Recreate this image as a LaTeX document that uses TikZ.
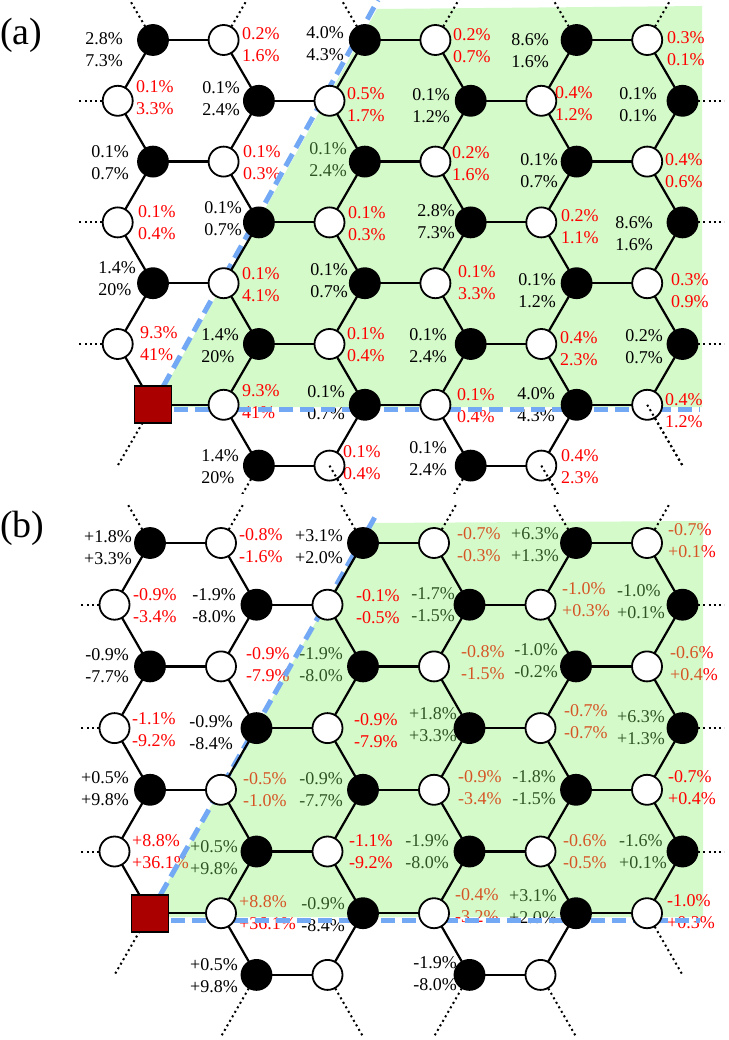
\documentclass[tikz,border=0pt]{standalone}
\usepackage{fontspec}
\setmainfont{Liberation Serif}
\definecolor{gfill}{RGB}{135,243,106}
\definecolor{dblue}{RGB}{115,168,245}
\definecolor{sqred}{RGB}{170,0,0}
\definecolor{lred}{RGB}{255,0,0}
\pgfdeclarelayer{bgl}
\pgfdeclarelayer{labunder}
\pgfdeclarelayer{shade}
\pgfdeclarelayer{labover}
\pgfdeclarelayer{dashes}
\pgfdeclarelayer{bonds}
\pgfdeclarelayer{top}
\pgfsetlayers{bgl,labunder,shade,labover,dashes,bonds,main,top}
\tikzset{
  bnode/.style={circle, draw=black, fill=black, line width=1.8pt, minimum size=30pt, inner sep=0pt},
  wnode/.style={circle, draw=black, fill=white, line width=1.8pt, minimum size=30pt, inner sep=0pt},
  sqnode/.style={rectangle, draw=black, fill=sqred, line width=1.8pt, minimum size=37pt, inner sep=0pt},
  bond/.style={line width=2.2pt},
  stub/.style={line width=2pt, dash pattern=on 2pt off 3.2pt},
  region/.style={draw=none, fill=gfill, fill opacity=0.35},
  border/.style={draw=dblue, line width=5pt, dash pattern=on 14pt off 7pt},
  lab/.style={font=\fontsize{18}{22}\selectfont, inner sep=0pt, align=left},
  tag/.style={font=\fontsize{38}{40}\selectfont, inner sep=0pt, anchor=west}
}
\newcommand\LA[6]{\node[lab,anchor=east,text=#6] (#1) at (#2,#3) {#4\\#5};}
\newcommand\RA[6]{\node[lab,anchor=west,text=#6] (#1) at (#2,#3) {#4\\#5};}
% #1 prefix, #2 x0, #3 y0, #4 a, #5 h, #6 clip top, #7 clip bottom
\newcommand\mklat[7]{%
\foreach \r in {0,2,4}{%
  \foreach \k/\m/\s in {0/0/bnode,1/1/wnode,2/3/bnode,3/4/wnode,4/6/bnode,5/7/wnode}{%
    \node[\s] (#1-\r-\k) at ({#2+(\m)*#4},{#3+\r*#5}) {};}}
\foreach \k/\m/\s in {1/1/wnode,2/3/bnode,3/4/wnode,4/6/bnode,5/7/wnode}{%
    \node[\s] (#1-6-\k) at ({#2+(\m)*#4},{#3+6*#5}) {};}
\node[sqnode] (#1-6-0) at (#2,{#3+6*#5}) {};
\foreach \r in {1,3,5}{%
  \foreach \k/\m/\s in {0/-0.5/wnode,1/1.5/bnode,2/2.5/wnode,3/4.5/bnode,4/5.5/wnode,5/7.5/bnode}{%
    \node[\s] (#1-\r-\k) at ({#2+(\m)*#4},{#3+\r*#5}) {};}}
\foreach \k/\m/\s in {1/1.5/bnode,2/2.5/wnode,3/4.5/bnode,4/5.5/wnode}{%
    \node[\s] (#1-7-\k) at ({#2+(\m)*#4},{#3+7*#5}) {};}
\foreach \k/\m in {0/-0.5,1/1.5,2/2.5,3/4.5,4/5.5,5/7.5}{%
  \coordinate (#1-u-\k) at ({#2+(\m)*#4},{#3-#5});}
\foreach \r in {1,3,5}{%
  \coordinate (#1-l-\r) at ({#2-1.5*#4},{#3+\r*#5});
  \coordinate (#1-e-\r) at ({#2+8.5*#4},{#3+\r*#5});}
\coordinate (#1-d-0) at ({#2-0.5*#4},{#3+7*#5});
\coordinate (#1-d-5) at ({#2+7.5*#4},{#3+7*#5});
\foreach \k/\m in {1/1,2/3,3/4,4/6}{%
  \coordinate (#1-b-\k) at ({#2+\m*#4},{#3+8*#5});}
\begin{pgfonlayer}{bonds}
 \foreach \r in {0,2,4,6}{\foreach \k/\j in {0/1,2/3,4/5}{\draw[bond] (#1-\r-\k.center) -- (#1-\r-\j.center);}}
 \foreach \r in {1,3,5,7}{\foreach \k/\j in {1/2,3/4}{\draw[bond] (#1-\r-\k.center) -- (#1-\r-\j.center);}}
 \foreach \r/\u in {0/1,2/1,2/3,4/3,4/5,6/5}{\foreach \k in {0,...,5}{\draw[bond] (#1-\r-\k.center) -- (#1-\u-\k.center);}}
 \foreach \k in {1,...,4}{\draw[bond] (#1-6-\k.center) -- (#1-7-\k.center);}
 \begin{scope}
 \clip (79,#6) rectangle (724,#7);
 \foreach \k in {0,...,5}{\draw[stub] (#1-0-\k.center) -- (#1-u-\k);}
 \foreach \r in {1,3,5}{\draw[stub] (#1-\r-0.center) -- (#1-l-\r); \draw[stub] (#1-\r-5.center) -- (#1-e-\r);}
 \draw[stub] (#1-6-0.center) -- (#1-d-0);
 \draw[stub] (#1-6-5.center) -- (#1-d-5);
 \foreach \k in {1,...,4}{\draw[stub] (#1-7-\k.center) -- (#1-b-\k);}
 \end{scope}
\end{pgfonlayer}
}
\begin{document}
\begin{tikzpicture}[x=1pt,y=-1pt]
\begin{pgfonlayer}{bgl}
\fill[white] (0,0) rectangle (728,1040);
\end{pgfonlayer}
\useasboundingbox (0,0) rectangle (728,1040);

% ---------------- panel (a) ----------------
\node[tag] (tagA) at (0,35) {(a)};
\mklat{a}{153}{40}{70.6}{60.8}{0}{493}
\begin{pgfonlayer}{shade}
\fill[region] (154,407) -- (377,9) -- (702,6) -- (702,407) -- cycle;
\end{pgfonlayer}
\coordinate (a-dt) at (378,0);
\coordinate (a-h0) at (153,409);
\coordinate (a-h1) at (700,409);
\begin{pgfonlayer}{dashes}
\draw[border] (a-6-0.center) -- (a-dt);
\draw[border] (a-h0) -- (a-h1);
\end{pgfonlayer}
\begin{pgfonlayer}{top}
\begin{scope}
\clip (79,0) rectangle (724,493);
\draw[stub] (a-6-5.center) -- (a-d-5);
\draw[stub] (a-7-2.center) -- (a-b-2);
\draw[stub] (a-7-4.center) -- (a-b-4);
\end{scope}
\end{pgfonlayer}
\begin{pgfonlayer}{labunder}
\LA{la-2-2}{347}{160}{0.1\%}{2.4\%}{black}
\end{pgfonlayer}
\begin{pgfonlayer}{labover}
\LA{la-0-0}{123}{49.5}{2.8\%}{7.3\%}{black}
\RA{la-0-1}{242}{45}{0.2\%}{1.6\%}{lred}
\LA{la-0-2}{344}{44}{4.0\%}{4.3\%}{black}
\RA{la-0-3}{453}{45.5}{0.2\%}{0.7\%}{lred}
\LA{la-0-4}{549}{50.5}{8.6\%}{1.6\%}{black}
\RA{la-0-5}{667}{48.5}{0.3\%}{0.1\%}{lred}
\RA{la-1-0}{136}{98}{0.1\%}{3.3\%}{lred}
\LA{la-1-1}{240}{99}{0.1\%}{2.4\%}{black}
\RA{la-1-2}{347}{104.5}{0.5\%}{1.7\%}{lred}
\LA{la-1-3}{450}{105.5}{0.1\%}{1.2\%}{black}
\RA{la-1-4}{555}{103.5}{0.4\%}{1.2\%}{lred}
\LA{la-1-5}{657}{105}{0.1\%}{0.1\%}{black}
\LA{la-2-0}{129}{162.5}{0.1\%}{0.7\%}{black}
\RA{la-2-1}{243}{162.5}{0.1\%}{0.3\%}{lred}
\RA{la-2-3}{452}{163.5}{0.2\%}{1.6\%}{lred}
\LA{la-2-4}{558}{171}{0.1\%}{0.7\%}{black}
\RA{la-2-5}{665}{170.5}{0.4\%}{0.6\%}{lred}
\RA{la-3-0}{138}{222.5}{0.1\%}{0.4\%}{lred}
\LA{la-3-1}{242}{219}{0.1\%}{0.7\%}{black}
\RA{la-3-2}{348}{223.5}{0.1\%}{0.3\%}{lred}
\LA{la-3-3}{455}{221.5}{2.8\%}{7.3\%}{black}
\RA{la-3-4}{561}{227}{0.2\%}{1.1\%}{lred}
\LA{la-3-5}{653}{234}{8.6\%}{1.6\%}{black}
\LA{la-4-0}{136}{278.5}{1.4\%}{20\%}{black}
\RA{la-4-1}{242}{285}{0.1\%}{4.1\%}{lred}
\LA{la-4-2}{348}{281}{0.1\%}{0.7\%}{black}
\RA{la-4-3}{458}{283}{0.1\%}{3.3\%}{lred}
\LA{la-4-4}{556}{291}{0.1\%}{1.2\%}{black}
\RA{la-4-5}{671}{291}{0.3\%}{0.9\%}{lred}
\RA{la-5-0}{140}{344}{9.3\%}{41\%}{lred}
\LA{la-5-1}{239}{345.5}{1.4\%}{20\%}{black}
\RA{la-5-2}{347}{345}{0.1\%}{0.4\%}{lred}
\LA{la-5-3}{447}{346}{0.1\%}{2.4\%}{black}
\RA{la-5-4}{560}{348.5}{0.4\%}{2.3\%}{lred}
\LA{la-5-5}{663}{346.5}{0.2\%}{0.7\%}{black}
\RA{la-6-1}{242}{401.5}{9.3\%}{41\%}{lred}
\LA{la-6-2}{345}{402.5}{0.1\%}{0.7\%}{black}
\RA{la-6-3}{457}{405.5}{0.1\%}{0.4\%}{lred}
\LA{la-6-4}{555}{404.5}{4.0\%}{4.3\%}{black}
\RA{la-6-5}{665}{410.5}{0.4\%}{1.2\%}{lred}
\LA{la-7-1}{239}{467}{1.4\%}{20\%}{black}
\RA{la-7-2}{343}{462.5}{0.1\%}{0.4\%}{lred}
\LA{la-7-3}{447}{458.5}{0.1\%}{2.4\%}{black}
\RA{la-7-4}{561}{466.5}{0.4\%}{2.3\%}{lred}
\end{pgfonlayer}

% ---------------- panel (b) ----------------
\node[tag] (tagB) at (0,528) {(b)};
\mklat{b}{150}{543}{71}{61.7}{503}{1040}
\begin{pgfonlayer}{shade}
\fill[region] (148,917) -- (372,523) -- (703,521) -- (703,917) -- cycle;
\end{pgfonlayer}
\coordinate (b-dt) at (375,517);
\coordinate (b-h0) at (150,920.5);
\coordinate (b-h1) at (700,920.5);
\begin{pgfonlayer}{dashes}
\draw[border] (b-6-0.center) -- (b-dt);
\draw[border] (b-h0) -- (b-h1);
\end{pgfonlayer}
\begin{pgfonlayer}{labunder}
\LA{lb-0-4}{559}{544.5}{+6.3\%}{+1.3\%}{black}
\LA{lb-1-3}{455}{605}{-1.7\%}{-1.5\%}{black}
\LA{lb-1-5}{665}{601.5}{-1.0\%}{+0.1\%}{black}
\LA{lb-2-2}{343}{665}{-1.9\%}{-8.0\%}{black}
\LA{lb-2-4}{558}{660.5}{-1.0\%}{-0.2\%}{black}
\LA{lb-3-3}{457}{725}{+1.8\%}{+3.3\%}{black}
\LA{lb-3-5}{665}{728}{+6.3\%}{+1.3\%}{black}
\LA{lb-4-2}{343}{790}{-0.9\%}{-7.7\%}{black}
\LA{lb-4-4}{556}{787.5}{-1.8\%}{-1.5\%}{black}
\LA{lb-5-1}{238}{858}{+0.5\%}{+9.8\%}{black}
\LA{lb-5-3}{449}{851.5}{-1.9\%}{-8.0\%}{black}
\LA{lb-5-5}{667}{851.5}{-1.6\%}{+0.1\%}{black}
\LA{lb-6-2}{345}{914.5}{-0.9\%}{-8.4\%}{black}
\LA{lb-6-4}{557}{906.5}{+3.1\%}{+2.0\%}{black}
\RA{lb-0-3}{457}{544.5}{-0.7\%}{-0.3\%}{lred}
\RA{lb-0-5}{668}{541}{-0.7\%}{+0.1\%}{lred}
\RA{lb-1-4}{562}{600}{-1.0\%}{+0.3\%}{lred}
\RA{lb-2-1}{246}{665}{-0.9\%}{-7.9\%}{lred}
\RA{lb-2-3}{461}{662.5}{-0.8\%}{-1.5\%}{lred}
\RA{lb-2-5}{670}{664}{-0.6\%}{+0.4\%}{lred}
\RA{lb-3-4}{564}{721.5}{-0.7\%}{-0.7\%}{lred}
\RA{lb-4-1}{243}{790}{-0.5\%}{-1.0\%}{lred}
\RA{lb-4-3}{458}{787.5}{-0.9\%}{-3.4\%}{lred}
\RA{lb-5-0}{132}{851.5}{+8.8\%}{+36.1\%}{lred}
\RA{lb-5-4}{563}{851.5}{-0.6\%}{-0.5\%}{lred}
\RA{lb-6-1}{239}{913}{+8.8\%}{+36.1\%}{lred}
\RA{lb-6-3}{455}{905.5}{-0.4\%}{-3.2\%}{lred}
\end{pgfonlayer}
\begin{pgfonlayer}{labover}
\LA{lb-0-0}{132}{547.5}{+1.8\%}{+3.3\%}{black}
\LA{lb-0-2}{343}{546.5}{+3.1\%}{+2.0\%}{black}
\LA{lb-1-1}{236}{606}{-1.9\%}{-8.0\%}{black}
\LA{lb-2-0}{129}{665.5}{-0.9\%}{-7.7\%}{black}
\LA{lb-3-1}{233}{733}{-0.9\%}{-8.4\%}{black}
\LA{lb-4-0}{129}{788.5}{+0.5\%}{+9.8\%}{black}
\LA{lb-7-1}{238}{975.5}{+0.5\%}{+9.8\%}{black}
\LA{lb-7-3}{457}{973.5}{-1.9\%}{-8.0\%}{black}
\RA{lb-0-1}{239}{545.5}{-0.8\%}{-1.6\%}{lred}
\RA{lb-1-0}{133}{606}{-0.9\%}{-3.4\%}{lred}
\RA{lb-1-2}{356}{607}{-0.1\%}{-0.5\%}{lred}
\RA{lb-3-0}{132}{730}{-1.1\%}{-9.2\%}{lred}
\RA{lb-3-2}{354}{731}{-0.9\%}{-7.9\%}{lred}
\RA{lb-4-5}{668}{787.5}{-0.7\%}{+0.4\%}{lred}
\RA{lb-5-2}{349}{852}{-1.1\%}{-9.2\%}{lred}
\RA{lb-6-5}{667}{912}{-1.0\%}{+0.3\%}{lred}
\end{pgfonlayer}
\end{tikzpicture}
\end{document}
